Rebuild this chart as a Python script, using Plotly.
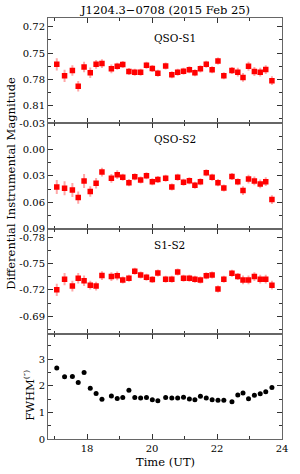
import plotly.graph_objects as go
from plotly.subplots import make_subplots

time_ut = [17.07, 17.31, 17.55, 17.73, 17.91, 18.10, 18.28, 18.46, 18.75, 18.93,
           19.10, 19.29, 19.47, 19.65, 19.83, 20.01, 20.18, 20.42, 20.61, 20.79,
           20.97, 21.15, 21.32, 21.49, 21.67, 21.85, 22.03, 22.21, 22.46, 22.64,
           22.80, 22.97, 23.15, 23.33, 23.50, 23.69]

qso_s1 = [0.7628, 0.7759, 0.7699, 0.7879, 0.7658, 0.7725, 0.7628, 0.7620, 0.7680, 0.7650,
          0.7631, 0.7710, 0.7718, 0.7718, 0.7639, 0.7676, 0.7729, 0.7646, 0.7748, 0.7718,
          0.7706, 0.7691, 0.7725, 0.7680, 0.7628, 0.7691, 0.7590, 0.7759, 0.7699, 0.7718,
          0.7778, 0.7650, 0.7710, 0.7718, 0.7688, 0.7815]
qso_s1_err = [0.007, 0.007, 0.006, 0.006, 0.006, 0.006, 0.005, 0.005, 0.005, 0.004,
              0.004, 0.004, 0.004, 0.004, 0.004, 0.004, 0.004, 0.004, 0.004, 0.004,
              0.004, 0.004, 0.004, 0.004, 0.004, 0.004, 0.004, 0.004, 0.004, 0.005,
              0.005, 0.005, 0.005, 0.005, 0.005, 0.005]

qso_s2 = [0.0426, 0.0442, 0.0460, 0.0547, 0.0358, 0.0479, 0.0385, 0.0257, 0.0328, 0.0287,
          0.0317, 0.0377, 0.0309, 0.0347, 0.0298, 0.0366, 0.0340, 0.0328, 0.0426, 0.0317,
          0.0374, 0.0355, 0.0408, 0.0366, 0.0264, 0.0317, 0.0377, 0.0438, 0.0306, 0.0366,
          0.0468, 0.0336, 0.0358, 0.0392, 0.0366, 0.0570]
qso_s2_err = [0.008, 0.008, 0.008, 0.007, 0.008, 0.006, 0.006, 0.005, 0.005, 0.005,
              0.004, 0.004, 0.004, 0.004, 0.004, 0.004, 0.004, 0.004, 0.004, 0.004,
              0.004, 0.004, 0.004, 0.004, 0.004, 0.004, 0.004, 0.004, 0.004, 0.004,
              0.005, 0.005, 0.005, 0.005, 0.005, 0.005]

s1_s2 = [-0.7201, -0.7322, -0.7243, -0.7333, -0.7303, -0.7254, -0.7243, -0.7363, -0.7352, -0.7360,
         -0.7314, -0.7333, -0.7412, -0.7371, -0.7345, -0.7318, -0.7393, -0.7322, -0.7322, -0.7405,
         -0.7333, -0.7333, -0.7322, -0.7314, -0.7360, -0.7371, -0.7209, -0.7322, -0.7390, -0.7352,
         -0.7314, -0.7314, -0.7352, -0.7322, -0.7322, -0.7254]
s1_s2_err = [0.007, 0.007, 0.006, 0.006, 0.006, 0.005, 0.005, 0.005, 0.005, 0.005,
             0.004, 0.004, 0.004, 0.004, 0.004, 0.004, 0.004, 0.004, 0.004, 0.004,
             0.004, 0.004, 0.004, 0.004, 0.004, 0.004, 0.004, 0.004, 0.004, 0.004,
             0.005, 0.005, 0.005, 0.005, 0.005, 0.005]

fwhm = [2.66, 2.34, 2.35, 2.12, 2.50, 1.90, 1.71, 1.49, 1.61, 1.52,
        1.56, 1.83, 1.56, 1.54, 1.56, 1.47, 1.44, 1.56, 1.54, 1.54,
        1.57, 1.50, 1.47, 1.60, 1.54, 1.47, 1.45, 1.45, 1.40, 1.65,
        1.73, 1.51, 1.64, 1.70, 1.77, 1.93]

panel_names = ["QSO-S1", "QSO-S2", "S1-S2"]
y1_ticks = [0.72, 0.75, 0.78, 0.81]
y1_labels = ["0.72", "0.75", "0.78", "0.81"]
y2_ticks = [-0.03, 0.00, 0.03, 0.06, 0.09]
y2_labels = ["-0.03", "0.00", "0.03", "0.06", "0.09"]
y3_ticks = [-0.78, -0.75, -0.72, -0.69]
y3_labels = ["-0.78", "-0.75", "-0.72", "-0.69"]
y4_ticks = [0, 1, 2, 3]
x_ticks = [18, 20, 22, 24]

FONT = "DejaVu Serif"
W, H = 300, 474
ML, MR, MT, MB = 48, 12, 15, 35

fig = make_subplots(rows=4, cols=1, shared_xaxes=True, vertical_spacing=0)

series = [(qso_s1, qso_s1_err), (qso_s2, qso_s2_err), (s1_s2, s1_s2_err)]
for i, (vals, errs) in enumerate(series, start=1):
    fig.add_trace(go.Scatter(
        x=time_ut, y=vals, mode="markers",
        marker=dict(symbol="square", size=5.5, color="#ff0000"),
        error_y=dict(type="data", array=errs, visible=True,
                     color="rgba(255,60,60,0.45)", thickness=2, width=0),
        showlegend=False), row=i, col=1)

fig.add_trace(go.Scatter(
    x=time_ut, y=fwhm, mode="markers",
    marker=dict(symbol="circle", size=5, color="#000000"),
    showlegend=False), row=4, col=1)

axis_common = dict(showline=True, linecolor="#666666", linewidth=1, mirror="allticks",
                   ticks="inside", tickcolor="#333333", ticklen=5, tickwidth=1,
                   showgrid=False, zeroline=False,
                   tickfont=dict(family=FONT, size=10, color="black"))

for r in range(1, 5):
    fig.update_xaxes(row=r, col=1, range=[16.8, 24.0], tickmode="array", tickvals=x_ticks,
                     ticktext=[str(t) for t in x_ticks], showticklabels=(r == 4),
                     minor=dict(ticks="inside", ticklen=3, tickcolor="#333333",
                                tickmode="linear", tick0=17, dtick=1),
                     **axis_common)

fig.update_yaxes(row=1, col=1, range=[0.83, 0.71], tickmode="array", tickvals=y1_ticks,
                 ticktext=y1_labels,
                 minor=dict(ticks="inside", ticklen=3, tickcolor="#333333",
                            tickmode="linear", tick0=0.72, dtick=0.015), **axis_common)
fig.update_yaxes(row=2, col=1, range=[0.09, -0.03], tickmode="array", tickvals=y2_ticks,
                 ticktext=y2_labels,
                 minor=dict(ticks="inside", ticklen=3, tickcolor="#333333",
                            tickmode="linear", tick0=0.0, dtick=0.015), **axis_common)
fig.update_yaxes(row=3, col=1, range=[-0.67, -0.79], tickmode="array", tickvals=y3_ticks,
                 ticktext=y3_labels,
                 minor=dict(ticks="inside", ticklen=3, tickcolor="#333333",
                            tickmode="linear", tick0=-0.78, dtick=0.015), **axis_common)
fig.update_yaxes(row=4, col=1, range=[0, 3.95], tickmode="array", tickvals=y4_ticks,
                 ticktext=[str(t) for t in y4_ticks],
                 minor=dict(ticks="inside", ticklen=3, tickcolor="#333333",
                            tickmode="linear", tick0=0, dtick=0.5), **axis_common)

pw = W - ML - MR
ph = H - MT - MB

def px_x(p):
    return (p - ML) / pw

def px_y(p):
    return 1 - (p - MT) / ph

annotations = []
label_y = [35, 137, 244]
for name, yy in zip(panel_names, label_y):
    annotations.append(dict(text=name, xref="paper", yref="paper", x=px_x(155), y=px_y(yy),
                            xanchor="left", yanchor="middle", showarrow=False,
                            font=dict(family=FONT, size=10.5, color="black")))
annotations.append(dict(text="J1204.3\u22120708 (2015 Feb 25)", xref="paper", yref="paper",
                        x=px_x(168), y=px_y(7), xanchor="center", yanchor="middle",
                        showarrow=False, font=dict(family=FONT, size=11.5, color="black")))
annotations.append(dict(text="Differential Instrumental Magnitude", xref="paper", yref="paper",
                        x=px_x(10), y=px_y(181), xanchor="center", yanchor="middle",
                        textangle=-90, showarrow=False,
                        font=dict(family=FONT, size=11.5, color="black")))
annotations.append(dict(text="FWHM<sup>(\u2033)</sup>", xref="paper", yref="paper",
                        x=px_x(29), y=px_y(395), xanchor="center", yanchor="middle",
                        textangle=-90, showarrow=False,
                        font=dict(family=FONT, size=11.5, color="black")))
annotations.append(dict(text="Time (UT)", xref="paper", yref="paper",
                        x=px_x(168), y=px_y(462), xanchor="center", yanchor="middle",
                        showarrow=False, font=dict(family=FONT, size=11.5, color="black")))

fig.update_layout(width=W, height=H, margin=dict(l=ML, r=MR, t=MT, b=MB),
                  paper_bgcolor="white", plot_bgcolor="white",
                  annotations=annotations, showlegend=False)

fig.write_html("out.html", config={"displayModeBar": False},
               post_script="document.body.style.margin='0';")
